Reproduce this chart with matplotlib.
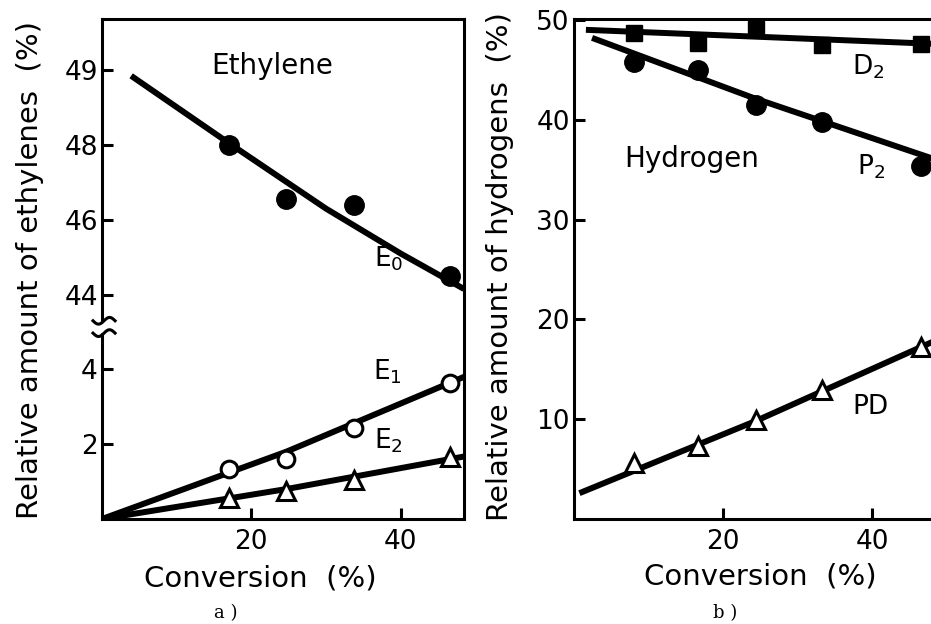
import numpy as np
import matplotlib
matplotlib.use("Agg")
import matplotlib.pyplot as plt
from matplotlib import rcParams
from matplotlib.transforms import blended_transform_factory

rcParams['font.family'] = ['DejaVu Sans']
rcParams['mathtext.default'] = 'regular'

# -----------------------------
# data: a) ethylene
# -----------------------------
conv_eth = [17.0, 24.7, 33.8, 46.6]
e0_pts = [48.0, 46.55, 46.4, 44.5]
e1_pts = [1.33, 1.6, 2.42, 3.63]
e2_pts = [0.55, 0.75, 1.05, 1.65]

# fitted curves as drawn
e0_fit_x = [3.9, 17.0, 30.0, 40.0, 48.5]
e0_fit_y = [49.85, 48.05, 46.3, 45.1, 44.15]
e1_fit_x = [0.0, 24.7, 48.5]
e1_fit_y = [0.0, 1.8, 3.8]
e2_fit_x = [0.0, 24.7, 48.5]
e2_fit_y = [0.0, 0.8, 1.67]

eth_yticks = [2, 4, 44, 46, 48, 50]
eth_yticklabels = ['2', '4', '44', '46', '48', '49']
top_offset = 38.0   # upper part (E0) shifted down below the axis break

# -----------------------------
# data: b) hydrogen
# -----------------------------
conv_h = [8.0, 16.6, 24.4, 33.3, 46.5]
d2_pts = [48.7, 47.7, 49.1, 47.5, 47.6]
p2_pts = [45.8, 45.0, 41.5, 39.8, 35.4]
pd_pts = [5.6, 7.3, 9.9, 12.9, 17.2]

d2_fit_x = [2.0, 48.5]
d2_fit_y = [49.0, 47.6]
p2_fit_x = [2.8, 24.0, 48.5]
p2_fit_y = [48.1, 42.2, 36.0]
pd_fit_x = [1.1, 24.3, 48.5]
pd_fit_y = [2.7, 9.8, 17.9]

xticks = [20, 40]

LW = 4.3
SPINE = 2.2

fig = plt.figure(figsize=(9.31, 6.24), dpi=100)
ax1 = fig.add_axes([0.1096, 0.1683, 0.3888, 0.8013])
ax2 = fig.add_axes([0.6165, 0.1683, 0.3888, 0.8013])

for ax in (ax1, ax2):
    for s in ax.spines.values():
        s.set_linewidth(SPINE)
    ax.tick_params(direction='in', length=8, width=SPINE, labelsize=19)
    ax.tick_params(axis='x', pad=7)
    ax.tick_params(axis='y', pad=3)
    ax.set_xlim(0, 48.5)
    ax.set_xticks(xticks)

# ---- a) ethylene ----
e0_fit_plot = [v - top_offset for v in e0_fit_y]
e0_plot = [v - top_offset for v in e0_pts]
ax1.plot(e0_fit_x, e0_fit_plot, color='black', lw=LW, solid_capstyle='butt', zorder=2)
ax1.plot(e1_fit_x, e1_fit_y, color='black', lw=LW, zorder=2)
ax1.plot(e2_fit_x, e2_fit_y, color='black', lw=LW, zorder=2)
ax1.plot(conv_eth, e0_plot, 'o', color='black', ms=14, zorder=3)
ax1.plot(conv_eth, e1_pts, 'o', mfc='white', mec='black', mew=2.2, ms=12, zorder=3)
ax1.plot(conv_eth, e2_pts, '^', mfc='white', mec='black', mew=2.2, ms=13, zorder=3)

ax1.set_ylim(0, 13.37)
ax1.set_yticks([t if t < 10 else t - top_offset for t in eth_yticks])
ax1.set_yticklabels(eth_yticklabels)

# axis break mark
trans = blended_transform_factory(ax1.transAxes, ax1.transData)
ax1.add_patch(plt.Rectangle((-0.01, 5.0), 0.02, 0.27, transform=trans,
                            color='white', clip_on=False, zorder=5))
wx = np.linspace(-0.025, 0.036, 30)
wave = 0.09 * np.sin((wx + 0.025) / 0.061 * 2 * np.pi)
for yb in (5.3, 4.97):
    ax1.plot(wx, yb - wave, color='black', lw=2.2, transform=trans,
             clip_on=False, zorder=6)

ax1.text(0.47, 0.905, 'Ethylene', transform=ax1.transAxes, fontsize=20,
         ha='center', va='center')
ax1.text(38.4, 44.95 - top_offset, 'E$_0$', fontsize=19, ha='center', va='center')
ax1.text(38.2, 3.95, 'E$_1$', fontsize=19, ha='center', va='center')
ax1.text(38.4, 2.1, 'E$_2$', fontsize=19, ha='center', va='center')

# ---- b) hydrogen ----
ax2.plot(d2_fit_x, d2_fit_y, color='black', lw=LW, zorder=2)
ax2.plot(p2_fit_x, p2_fit_y, color='black', lw=LW, zorder=2)
ax2.plot(pd_fit_x, pd_fit_y, color='black', lw=LW, zorder=2)
ax2.plot(conv_h, d2_pts, 's', color='black', ms=12, zorder=3)
ax2.plot(conv_h, p2_pts, 'o', color='black', ms=14, zorder=3)
ax2.plot(conv_h, pd_pts, '^', mfc='white', mec='black', mew=2.2, ms=13, zorder=3)

ax2.set_ylim(0, 50.1)
ax2.set_yticks([10, 20, 30, 40, 50])
ax2.spines['right'].set_visible(False)

ax2.text(0.326, 0.72, 'Hydrogen', transform=ax2.transAxes, fontsize=20,
         ha='center', va='center')
ax2.text(39.5, 45.3, 'D$_2$', fontsize=19, ha='center', va='center')
ax2.text(39.8, 35.3, 'P$_2$', fontsize=19, ha='center', va='center')
ax2.text(39.7, 11.2, 'PD', fontsize=19, ha='center', va='center')

# ---- labels ----
fig.text(30 / 931, 1 - 270 / 624, 'Relative amount of ethylenes  (%)', rotation=90,
         fontsize=21, ha='center', va='center')
fig.text(500 / 931, 1 - 267 / 624, 'Relative amount of hydrogens  (%)', rotation=90,
         fontsize=21, ha='center', va='center')
fig.text(260 / 931, 1 - 578 / 624, 'Conversion  (%)', fontsize=21, ha='center', va='center')
fig.text(760 / 931, 1 - 576 / 624, 'Conversion  (%)', fontsize=21, ha='center', va='center')
fig.text(226 / 931, 1 - 613 / 624, 'a )', family='DejaVu Serif', fontsize=13,
         ha='center', va='center')
fig.text(725 / 931, 1 - 613 / 624, 'b )', family='DejaVu Serif', fontsize=13,
         ha='center', va='center')

fig.savefig('out.png', dpi=100)
